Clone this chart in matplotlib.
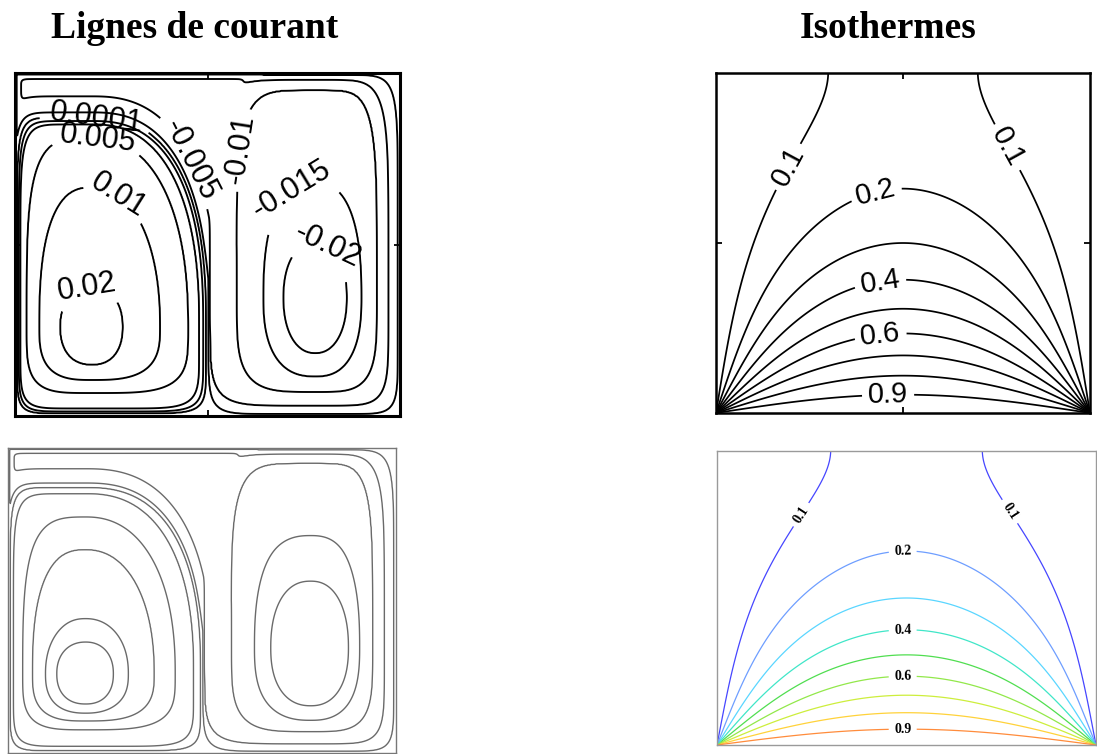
import numpy as np
import matplotlib.pyplot as plt

# ---------------------------------------------------------------
# Isothermes : hauteur (y/H) de chaque isotherme au milieu de la cavite
iso_levels = [0.1, 0.2, 0.3, 0.4, 0.5, 0.6, 0.7, 0.8, 0.9]
iso_mid_levels = [0.9, 0.8, 0.7, 0.6, 0.5, 0.4, 0.3, 0.2]
iso_mid_height = [0.056, 0.109, 0.168, 0.233, 0.31, 0.39, 0.50, 0.66]
iso_top_x = 0.30          # l'isotherme 0.1 touche la paroi haute en x/L = 0.30
iso_labels = [0.1, 0.2, 0.4, 0.6, 0.9]
iso_colors = ['#4646ff', '#6e9eff', '#5ad6ff', '#40e6c8', '#50de50',
              '#92e84a', '#cdee3c', '#ffd23a', '#ff8c3c']

# Lignes de courant : niveaux traces et etiquetes
psi_levels_tl = [-0.02, -0.015, -0.01, -0.005, -0.0005,
                 0.0001, 0.0005, 0.001, 0.005, 0.01, 0.02]
psi_labels_tl = [-0.02, -0.015, -0.01, -0.005, 0.0001, 0.005, 0.01, 0.02]
psi_levels_bl = [-0.0175, -0.014, -0.01, -0.005, -0.0005,
                 0.0001, 0.001, 0.006, 0.01, 0.015, 0.0205]

# cellule gauche (psi > 0) : centre, niveaux (de l'exterieur vers le centre)
# et etendue de chaque ligne (gauche, droite, bas, haut)
cellL_c = (0.2, 0.26)
cellL_vals = [0, 0.0001, 0.0005, 0.001, 0.005, 0.01, 0.02]
cellL_peak = 0.0225
cellL_ext = [(0.200, 0.300, 0.260, 0.620), (0.194, 0.296, 0.252, 0.610),
             (0.190, 0.289, 0.247, 0.600), (0.186, 0.278, 0.238, 0.590),
             (0.170, 0.250, 0.193, 0.550), (0.137, 0.177, 0.155, 0.407),
             (0.083, 0.080, 0.111, 0.116)]
# exposants des super-ellipses (haut-gauche, haut-droite, bas-gauche, bas-droite)
cellL_p = [(10, 2.5, 10, 10), (10, 2.5, 9, 9), (9, 2.5, 8, 8), (8, 2.4, 7, 7),
           (4, 2.3, 4, 4), (2.6, 2.2, 3, 3), (2.2, 2.2, 2.3, 2.3)]

# cellule droite (psi < 0), valeurs absolues
cellR_c = (0.78, 0.345)
cellR_vals = [0, 0.0005, 0.005, 0.01, 0.015, 0.02]
cellR_peak = 0.0235
cellR_ext = [(0.280, 0.220, 0.345, 0.655), (0.277, 0.214, 0.339, 0.649),
             (0.274, 0.190, 0.315, 0.635), (0.204, 0.160, 0.275, 0.605),
             (0.135, 0.120, 0.230, 0.335), (0.083, 0.082, 0.162, 0.162)]
cellR_p = [(10, 10, 10, 10), (9, 9, 9, 9), (6, 6, 6, 6), (5, 5, 4, 4),
           (2.5, 2.5, 2.5, 2.5), (2.2, 2.2, 2.2, 2.2)]

# jet au-dessus de la cellule gauche
band_k = 0.06
top_d = [0, 0.005, 0.017, 0.05, 0.3]
top_v = [0, 0.0005, 0.005, 0.01, 0.03]
bandL_d = [0, 0.005, 0.015, 0.06]
bandL_v = [0, 0.0005, 0.005, 0.0085]
band_cap_x = [0, 0.05, 0.3, 0.45, 0.55, 0.65]
band_cap_v = [0.0075, 0.0078, 0.008, 0.0088, 0.009, 0.0]
band_low_y = [0.3, 0.5]

# positions des etiquettes (x/L, y/H)
tl_label_pos = [(0.79, 0.455), (0.714, 0.668), (0.567, 0.78), (0.472, 0.755),
                (0.21, 0.854), (0.21, 0.755), (0.255, 0.62), (0.187, 0.367)]
tr_label_pos = [(0.20, 0.72), (0.76, 0.77), (0.43, 0.64), (0.44, 0.38),
                (0.44, 0.23), (0.46, 0.06)]
br_label_pos = [(0.214, 0.79), (0.768, 0.79), (0.49, 0.66), (0.49, 0.39),
                (0.49, 0.23), (0.49, 0.05)]


def smin(*arrs, n=8):
    s = sum(np.maximum(a, 1e-12) ** (-n) for a in arrs)
    return s ** (-1.0 / n)


def smax(a, b, n=8):
    return (a ** n + b ** n) ** (1.0 / n)


g = np.linspace(0, 1, 501)
X, Y = np.meshgrid(g, g)


def cell_field(center, vals, peak, ext, pexp):
    """lignes emboitees : interpolation entre super-ellipses successives"""
    dx = np.abs(X - center[0])
    dy = np.abs(Y - center[1])
    right = X > center[0]
    up = Y > center[1]
    rs = []
    for (L, R, D, U), (ptl, ptr, pbl, pbr) in zip(ext, pexp):
        ex = np.where(right, R, L)
        ey = np.where(up, U, D)
        p = np.where(up, np.where(right, ptr, ptl), np.where(right, pbr, pbl))
        rs.append(((dx / ex) ** p + (dy / ey) ** p) ** (1 / p))
    rs = np.array(rs)
    v = np.array(vals)
    m = (rs < 1).sum(0)
    k_in = np.clip(m - 1, 0, len(vals) - 1)
    k_out = np.clip(m, 0, len(vals) - 1)
    r_in = np.take_along_axis(rs, k_in[None], 0)[0]
    r_out = np.take_along_axis(rs, k_out[None], 0)[0]
    t = (1 - r_in) / np.maximum((1 - r_in) + (r_out - 1), 1e-9)
    f = v[k_in] + t * (v[k_out] - v[k_in])
    inner = m == len(vals)
    f = np.where(inner, v[-1] + (peak - v[-1]) * (1 - rs[-1] ** 2), f)
    f = np.where(m == 0, 0.0, f)
    return f, rs[0]


psiL, r0L = cell_field(cellL_c, cellL_vals, cellL_peak, cellL_ext, cellL_p)
NR, _ = cell_field(cellR_c, cellR_vals, cellR_peak, cellR_ext, cellR_p)
NB = smin(band_k * np.clip(r0L - 1, 0, None),
          np.interp(1 - Y, top_d, top_v),
          np.interp(X, bandL_d, bandL_v),
          np.interp(X, band_cap_x, band_cap_v))
NB = NB * np.interp(Y, band_low_y, [0, 1])
psi = psiL - smax(NR, NB)

# ---- temperature
s_mid = [np.arcsinh(1 / np.tan(c * np.pi / 2)) / np.pi for c in iso_mid_levels]
s_top = np.arcsinh(np.sin(np.pi * iso_top_x) / np.tan(iso_levels[0] * np.pi / 2)) / np.pi
yy = np.array([0] + iso_mid_height + [1.0])
ss = np.array([0] + s_mid + [s_top])
coef = np.polyfit(yy, ss, 4, w=[10] + [1] * len(s_mid) + [3])
S = np.maximum(np.polyval(coef, Y) - np.polyval(coef, 0), 0)
with np.errstate(divide='ignore', invalid='ignore'):
    T = 2 / np.pi * np.arctan2(np.sin(np.pi * X), np.sinh(np.pi * S))

fmt = {lev: f'{lev:g}' for lev in psi_levels_tl + iso_levels}

fig = plt.figure(figsize=(10.97, 7.54), dpi=100)
W, H = 1097, 754


def box(x0, y0, x1, y1):
    return [x0 / W, 1 - y1 / H, (x1 - x0) / W, (y1 - y0) / H]


ax_tl = fig.add_axes(box(15, 73, 400, 416))
ax_tr = fig.add_axes(box(716, 73, 1090, 413))
ax_bl = fig.add_axes(box(8, 448, 396, 753))
ax_br = fig.add_axes(box(717, 451, 1096, 745))

for ax in (ax_tl, ax_tr, ax_bl, ax_br):
    ax.set_xlim(0, 1)
    ax.set_ylim(0, 1)
    ax.set_xticks([])
    ax.set_yticks([])

for ax, lw in ((ax_tl, 2.2), (ax_tr, 1.8)):
    ax.set_xticks([0.5])
    ax.set_yticks([0.5])
    ax.tick_params(direction='in', length=4, width=1.3, top=True, right=True,
                   labelbottom=False, labelleft=False)
    for sp in ax.spines.values():
        sp.set_linewidth(lw)


def labelled_contours(ax, Z, levels, labelled, colors, lw, pos, size):
    rest = [l for l in levels if l not in labelled]
    rest_cols = [c for l, c in zip(levels, colors) if l not in labelled]
    lab_cols = [c for l, c in zip(levels, colors) if l in labelled]
    if rest:
        ax.contour(X, Y, Z, levels=rest, colors=rest_cols, linewidths=lw,
                   negative_linestyles='solid')
    cl = ax.contour(X, Y, Z, levels=labelled, colors=lab_cols, linewidths=lw,
                    negative_linestyles='solid')
    return ax.clabel(cl, manual=pos, inline=True, fmt=fmt, fontsize=size,
                     colors='k', inline_spacing=3)


# haut gauche
txt = labelled_contours(ax_tl, psi, psi_levels_tl, psi_labels_tl,
                        ['k'] * len(psi_levels_tl), 1.35, tl_label_pos, 22)
for t in txt:
    t.set_fontfamily('Liberation Sans')

# haut droite
txt = labelled_contours(ax_tr, T, iso_levels, iso_labels,
                        ['k'] * len(iso_levels), 1.25, tr_label_pos, 21)
for t in txt:
    t.set_fontfamily('Liberation Sans')

# bas gauche
ax_bl.contour(X, Y, psi, levels=psi_levels_bl, colors='#6a6a6a', linewidths=1.0,
              negative_linestyles='solid')
for sp in ax_bl.spines.values():
    sp.set_color('#777777')
    sp.set_linewidth(1.0)

# bas droite
txt = labelled_contours(ax_br, T, iso_levels, iso_labels, iso_colors, 0.9,
                        br_label_pos, 10)
for t in txt:
    t.set_fontfamily('Liberation Serif')
    t.set_fontweight('bold')
for sp in ax_br.spines.values():
    sp.set_color('#9a9a9a')
    sp.set_linewidth(1.0)

fig.text(195 / W, 1 - 28 / H, 'Lignes de courant', ha='center', va='center',
         fontsize=27, fontweight='bold', family='Liberation Serif')
fig.text(888 / W, 1 - 28 / H, 'Isothermes', ha='center', va='center',
         fontsize=27, fontweight='bold', family='Liberation Serif')

fig.savefig('out.png', dpi=100)
